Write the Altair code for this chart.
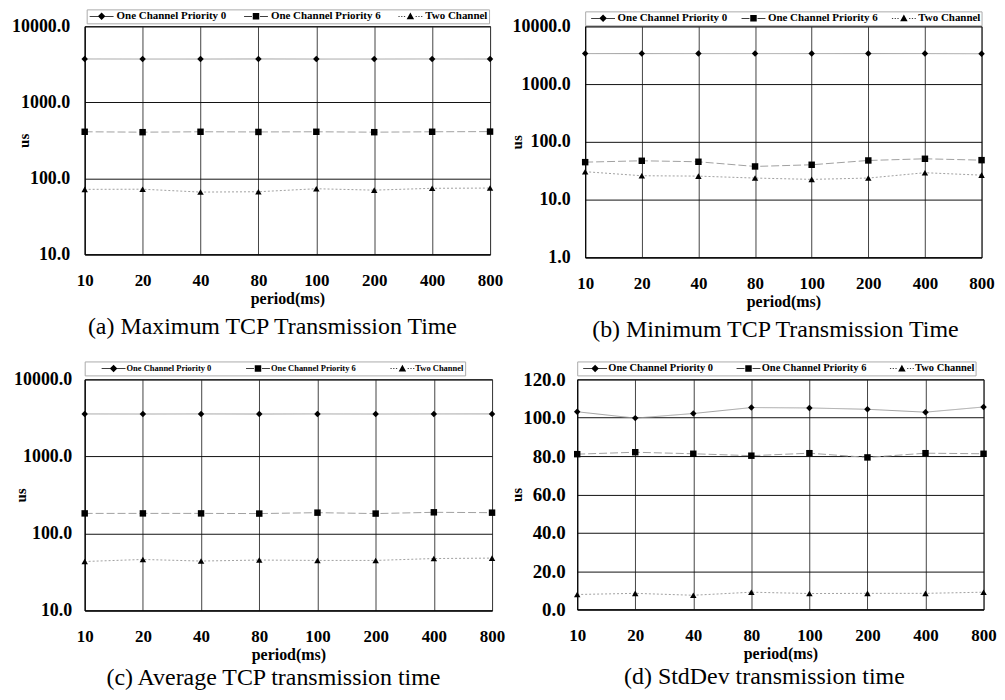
import altair as alt
import pandas as pd

FONT = "Liberation Serif"

periods = ["10", "20", "40", "80", "100", "200", "400", "800"]
series = ["One Channel Priority 0", "One Channel Priority 6", "Two Channel"]

# (a) Maximum TCP transmission time (us)
a_p0 = [3720, 3710, 3710, 3720, 3710, 3710, 3720, 3710]
a_p6 = [410, 405, 410, 408, 410, 405, 410, 412]
a_two = [71.7, 72.0, 66.0, 66.7, 73.0, 70.0, 74.0, 74.5]

# (b) Minimum TCP transmission time (us)
b_p0 = [3370, 3370, 3370, 3370, 3370, 3370, 3370, 3350]
b_p6 = [44.5, 47.0, 45.2, 37.5, 40.1, 47.6, 50.9, 48.2]
b_two = [30.4, 25.9, 25.5, 23.6, 22.4, 23.6, 29.2, 26.5]

# (c) Average TCP transmission time (us)
c_p0 = [3560, 3550, 3560, 3550, 3560, 3550, 3560, 3560]
c_p6 = [182, 182, 182, 181, 186, 181, 188, 186]
c_two = [43.2, 45.9, 43.8, 45.1, 44.6, 44.6, 47.2, 47.8]

# (d) StdDev transmission time (us)
d_p0 = [103.1, 99.8, 102.2, 105.3, 105.1, 104.4, 102.9, 105.6]
d_p6 = [81.0, 82.0, 81.2, 80.2, 81.5, 79.3, 81.5, 81.2]
d_two = [7.8, 8.4, 7.4, 9.0, 8.3, 8.4, 8.4, 9.0]

captions = [
    "(a) Maximum TCP Transmission Time",
    "(b) Minimum TCP Transmission Time",
    "(c) Average TCP transmission time",
    "(d) StdDev transmission time",
]

# legend symbols: line segment + marker (custom SVG paths, unit = sqrt(size)/2)
legend_paths = [
    "M-2.4,-0.07H2.4V0.07H-2.4Z M0,-0.75L0.75,0L0,0.75L-0.75,0Z",
    "M-2.4,-0.07H-0.8V0.07H-2.4Z M0.8,-0.07H2.4V0.07H0.8Z M-0.65,-0.65H0.65V0.65H-0.65Z",
    "M-2.4,-0.07H-2.15V0.07H-2.4Z M-1.85,-0.07H-1.6V0.07H-1.85Z M-1.3,-0.07H-1.05V0.07H-1.3Z "
    "M1.05,-0.07H1.3V0.07H1.05Z M1.6,-0.07H1.85V0.07H1.6Z M2.15,-0.07H2.4V0.07H2.15Z "
    "M0,-0.75L0.75,0.6L-0.75,0.6Z",
]


def make_df(p0, p6, two):
    rows = []
    for name, vals in zip(series, [p0, p6, two]):
        for per, v in zip(periods, vals):
            rows.append({"period": per, "series": name, "value": v})
    return pd.DataFrame(rows)


def panel(df, caption, yscale, yvalues, w, h, title_x, ylab_pad,
          leg_x, leg_y, leg_font, leg_colpad, sym_off, lab_off,
          cap_dx=-15, cap_off=9, ylab_size=18):
    x = alt.X(
        "period:O", sort=periods,
        scale=alt.Scale(type="point", padding=0),
        axis=alt.Axis(
            title="period(ms)", labelAngle=0, labelFont=FONT,
            labelFontWeight="bold", labelFontSize=17, labelColor="black",
            labelPadding=18, ticks=False, domainColor="black",
            grid=True, gridColor="#444444", gridWidth=1,
            titleFont=FONT, titleFontWeight="bold", titleFontSize=16,
            titleColor="black", titlePadding=2,
        ),
    )
    y = alt.Y(
        "value:Q", scale=yscale,
        axis=alt.Axis(
            title="us", values=yvalues, format=".1f", labelFont=FONT,
            labelFontWeight="bold", labelFontSize=ylab_size, labelColor="black",
            labelPadding=ylab_pad, ticks=False, domainColor="black",
            grid=True, gridColor="#111111", gridWidth=1,
            titleFont=FONT, titleFontWeight="bold", titleFontSize=15,
            titleColor="black", titleX=title_x, titleY=h / 2,
            titleAngle=270, titleBaseline="middle", titleAlign="center",
        ),
    )
    base = alt.Chart(df)
    lines = base.mark_line(color="#a0a0a0", strokeWidth=1).encode(
        x=x, y=y,
        strokeDash=alt.StrokeDash(
            "series:N",
            scale=alt.Scale(domain=series, range=[[1, 0], [8, 3], [2, 2]]),
            legend=None,
        ),
    )
    pts = base.mark_point(filled=True, color="black", opacity=1, size=42).encode(
        x=x, y=y,
        shape=alt.Shape(
            "series:N",
            scale=alt.Scale(domain=series, range=["diamond", "square", "triangle-up"]),
            legend=None,
        ),
    )
    leg = base.mark_point(filled=True, color="black", opacity=0).encode(
        x=x, y=y,
        shape=alt.Shape(
            "series:N",
            scale=alt.Scale(domain=series, range=legend_paths),
            legend=alt.Legend(
                orient="none", legendX=leg_x, legendY=leg_y,
                direction="horizontal", columns=3, title=None,
                labelFont=FONT, labelFontWeight="bold", labelFontSize=leg_font,
                labelColor="black", labelLimit=0,
                symbolSize=100, symbolStrokeWidth=0, symbolFillColor="black",
                symbolOffset=sym_off, labelOffset=lab_off, columnPadding=leg_colpad,
                padding=1, strokeColor="#aaaaaa", fillColor="white",
                clipHeight=12,
            ),
        ),
    )
    return (
        alt.layer(lines, pts, leg)
        .resolve_scale(shape="independent")
        .properties(
            width=w, height=h,
            title=alt.TitleParams(
                caption, orient="bottom", font=FONT, fontSize=24,
                fontWeight="normal", color="black", anchor="middle",
                frame="group", dx=cap_dx, offset=cap_off,
            ),
        )
    )


log_a = alt.Scale(type="log", domain=[10, 10000])
log_b = alt.Scale(type="log", domain=[1, 10000])
lin_d = alt.Scale(type="linear", domain=[0, 120], nice=False)

pa = panel(make_df(a_p0, a_p6, a_two), captions[0], log_a, [10, 100, 1000, 10000],
           407, 229, -61, 15, 2, -17, 11, 15, 8.5, 9.5)
pb = panel(make_df(b_p0, b_p6, b_two), captions[1], log_b, [1, 10, 100, 1000, 10000],
           398, 232, -69, 15, 0, -15, 11, 9, 11.5, 9, cap_dx=-8)
pc = panel(make_df(c_p0, c_p6, c_two), captions[2], log_a, [10, 100, 1000, 10000],
           409, 232, -64, 13, 0, -18, 8.5, 18, 23, 8, cap_off=4)
pd_ = panel(make_df(d_p0, d_p6, d_two), captions[3], lin_d, [0, 20, 40, 60, 80, 100, 120],
            408, 231, -61, 12, 0, -18, 10.5, 18, 11.75, 8, cap_dx=-16, cap_off=4,
            ylab_size=19)


def res(c):
    return c.resolve_scale(shape="independent", strokeDash="independent").resolve_legend(
        shape="independent")


row1 = res(alt.hconcat(pa, pb, spacing=4.5))
row2 = res(alt.hconcat(pc, pd_, spacing=2.5))
chart = (
    res(alt.vconcat(row1, row2, spacing=17.5))
    .properties(padding={"left": 3, "top": -1, "right": 0, "bottom": 0}, background="white")
    .configure_view(stroke="black", strokeWidth=1)
)

chart.save("out.html", embed_options={"renderer": "svg", "actions": False})
